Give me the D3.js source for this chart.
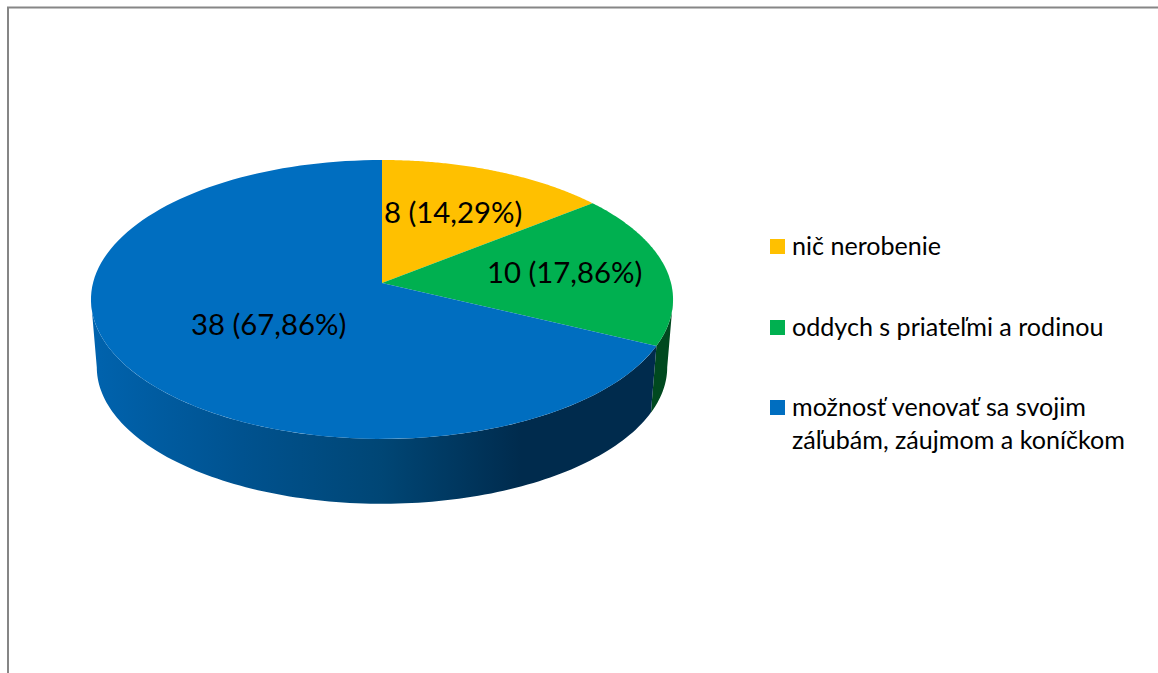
<!DOCTYPE html>
<html>
<head>
<meta charset="utf-8">
<script src="https://cdn.jsdelivr.net/npm/d3@7"></script>
<style>
  html, body { margin: 0; padding: 0; background: #fff; overflow: hidden; }
  text { font-family: Lato, "Open Sans", sans-serif; fill: #000; }
</style>
</head>
<body>
<div id="chart-container"></div>
<script>
const categories = ["nič nerobenie", "oddych s priateľmi a rodinou", "možnosť venovať sa svojim|záľubám, záujmom a koníčkom"];
const values = [8, 10, 38];
const colors = ["#FFC000", "#00B050", "#006EC0"];

const svgWidth = 1158;
const svgHeight = 673;

const svg = d3.select("#chart-container")
    .append("svg")
    .attr("width", svgWidth)
    .attr("height", svgHeight)
    .style("display", "block");

// chart frame, only top and left show
svg.append("path")
    .attr("d", `M8,673V7.5H1158`)
    .attr("fill", "none")
    .attr("stroke", "#868686")
    .attr("stroke-width", 2);

const pie = d3.pie().sort(null).value(d => d);
const arcs = pie(values);
const total = d3.sum(values);

// tilted disc: perspective projection of a circle, angle clockwise from north
const k = 0.118;
const project = (a, scale, cy) => {
    const d = 1 + k * Math.cos(a);
    return [382 + scale * 289 * Math.sin(a) / d, cy - scale * 137.5 * Math.cos(a) / d];
};
const line = d3.line();
const sample = (a0, a1, scale, cy) => d3.range(0, 121).map(i => project(a0 + (a1 - a0) * i / 120, scale, cy));

const topY = 283, bottomY = 351, bottomScale = 0.98;
const edgeAngle = Math.acos(-k);     // right silhouette of the disc
const edgeAngle2 = 2 * Math.PI - edgeAngle;

const defs = svg.append("defs");
const wallBlue = defs.append("linearGradient")
    .attr("id", "wall-blue")
    .attr("gradientUnits", "userSpaceOnUse")
    .attr("x1", 91).attr("x2", 673).attr("y1", 0).attr("y2", 0);
[[0, "#0063AE"], [0.26, "#00528F"], [0.5, "#004675"], [0.74, "#002B4D"], [1, "#002B4D"]]
    .forEach(s => wallBlue.append("stop").attr("offset", s[0]).attr("stop-color", s[1]));

// side walls
const walls = [
    { a0: edgeAngle, a1: arcs[1].endAngle, fill: "#00491F" },
    { a0: arcs[1].endAngle, a1: edgeAngle2, fill: "url(#wall-blue)" }
];
svg.selectAll("path.wall")
    .data(walls)
    .enter()
    .append("path")
    .attr("class", "wall")
    .attr("fill", d => d.fill)
    .attr("d", d => line(sample(d.a0, d.a1, 1, topY).concat(sample(d.a1, d.a0, bottomScale, bottomY))) + "Z");

// top faces
svg.selectAll("path.slice")
    .data(arcs)
    .enter()
    .append("path")
    .attr("class", "slice")
    .attr("fill", (d, i) => colors[i])
    .attr("d", d => line([project(0, 0, topY)].concat(sample(d.startAngle, d.endAngle, 1, topY))) + "Z");

// value labels
const labelSpots = [[384, 223], [487, 283], [191, 335]];
svg.selectAll("text.value")
    .data(arcs)
    .enter()
    .append("text")
    .attr("class", "value")
    .attr("x", (d, i) => labelSpots[i][0])
    .attr("y", (d, i) => labelSpots[i][1])
    .attr("font-size", 29.3)
    .text(d => `${d.value} (${(d.value / total * 100).toFixed(2).replace(".", ",")}%)`);

// legend
const legendY = [239, 320, 400];
const legend = svg.selectAll("g.legend")
    .data(categories)
    .enter()
    .append("g")
    .attr("class", "legend")
    .attr("transform", (d, i) => `translate(770, ${legendY[i]})`);
legend.append("rect")
    .attr("width", 15)
    .attr("height", 15)
    .attr("fill", (d, i) => colors[i]);
legend.each(function (d) {
    d3.select(this).selectAll("text")
        .data(d.split("|"))
        .enter()
        .append("text")
        .attr("x", 22)
        .attr("y", (t, j) => 16 + j * 33)
        .attr("font-size", 25.1)
        .text(t => t);
});
</script>
</body>
</html>
